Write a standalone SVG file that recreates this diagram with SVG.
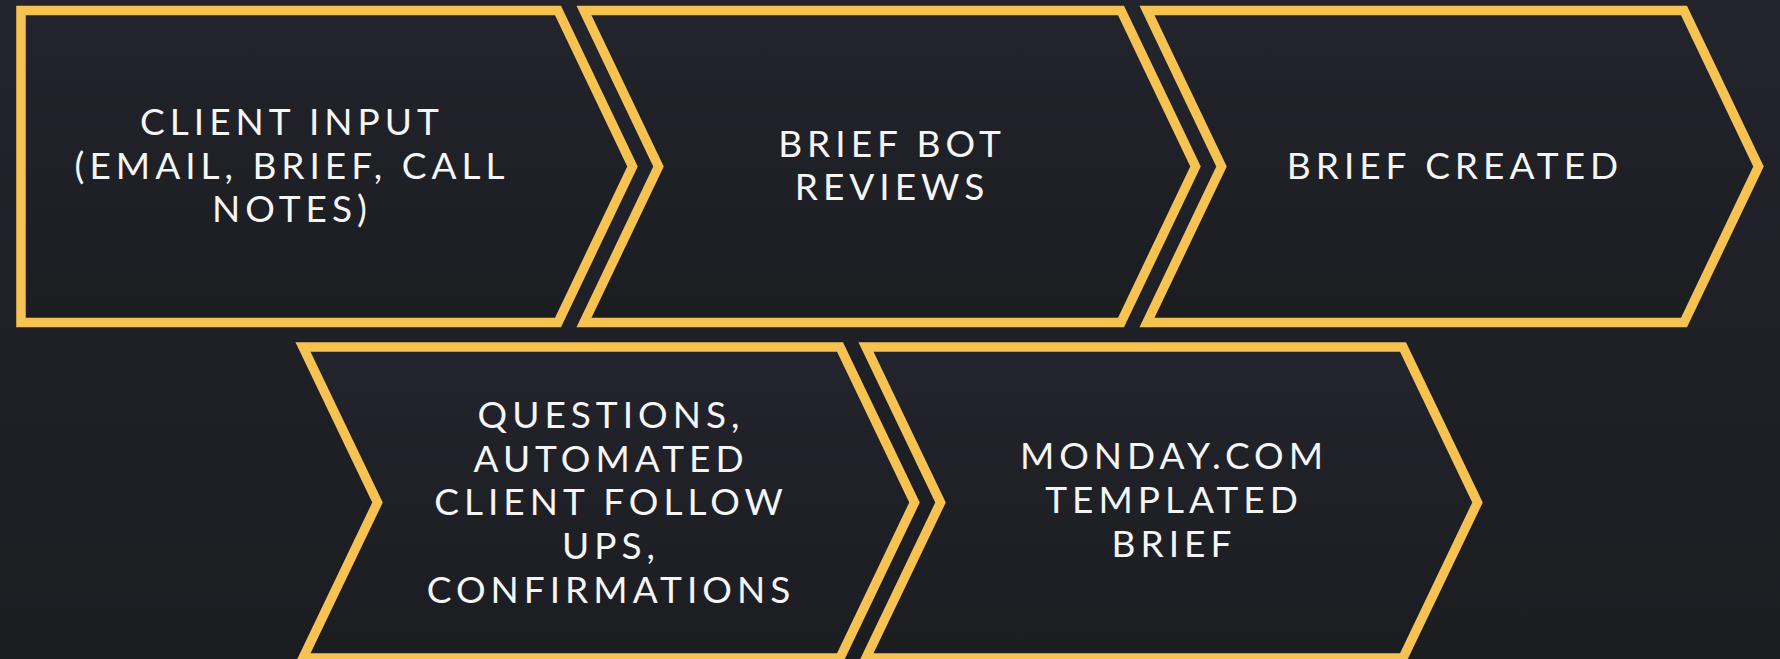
<svg xmlns="http://www.w3.org/2000/svg" width="1780" height="659" viewBox="0 0 1780 659">
  <defs>
    <linearGradient id="bg" x1="0" y1="0" x2="0" y2="1">
      <stop offset="0" stop-color="#23242c"/>
      <stop offset="1" stop-color="#1c1d21"/>
    </linearGradient>
    <style>
      .shape { fill: url(#bg); stroke: #f6c251; stroke-width: 9.5; stroke-linejoin: miter; stroke-miterlimit: 10; }
      .label { font-family: Lato, "Open Sans", sans-serif; font-size: 37px; fill: #f5f5f5; text-anchor: middle; letter-spacing: 5px; }
    </style>
  </defs>
  <rect x="0" y="0" width="1780" height="659" fill="url(#bg)"/>
  <g id="connectors"></g>
  <g id="node1">
    <path class="shape" d="M21,10.5 L558,10.5 L632.5,166.5 L558,322.5 L21,322.5 Z"/>
    <text class="label" x="292" y="135">CLIENT INPUT</text>
    <text class="label" x="292" y="178.5">(EMAIL, BRIEF, CALL</text>
    <text class="label" x="292" y="222">NOTES)</text>
  </g>
  <g id="node2">
    <path class="shape" d="M584,10.5 L1121,10.5 L1195.5,166.5 L1121,322.5 L584,322.5 L658.5,166.5 Z"/>
    <text class="label" x="892" y="156.5">BRIEF BOT</text>
    <text class="label" x="892" y="200">REVIEWS</text>
  </g>
  <g id="node3">
    <path class="shape" d="M1147,10.5 L1684,10.5 L1758.5,166.5 L1684,322.5 L1147,322.5 L1221.5,166.5 Z"/>
    <text class="label" x="1455" y="178.5">BRIEF CREATED</text>
  </g>
  <g id="node4">
    <path class="shape" d="M303,347 L840,347 L914.5,502.5 L840,658 L303,658 L377.5,502.5 Z"/>
    <text class="label" x="611" y="427.5">QUESTIONS,</text>
    <text class="label" x="611" y="471.5">AUTOMATED</text>
    <text class="label" x="611" y="515">CLIENT FOLLOW</text>
    <text class="label" x="611" y="559">UPS,</text>
    <text class="label" x="611" y="603">CONFIRMATIONS</text>
  </g>
  <g id="node5">
    <path class="shape" d="M866,347 L1403,347 L1477.5,502.5 L1403,658 L866,658 L940.5,502.5 Z"/>
    <text class="label" x="1174" y="469">MONDAY.COM</text>
    <text class="label" x="1174" y="513">TEMPLATED</text>
    <text class="label" x="1174" y="557">BRIEF</text>
  </g>
</svg>
